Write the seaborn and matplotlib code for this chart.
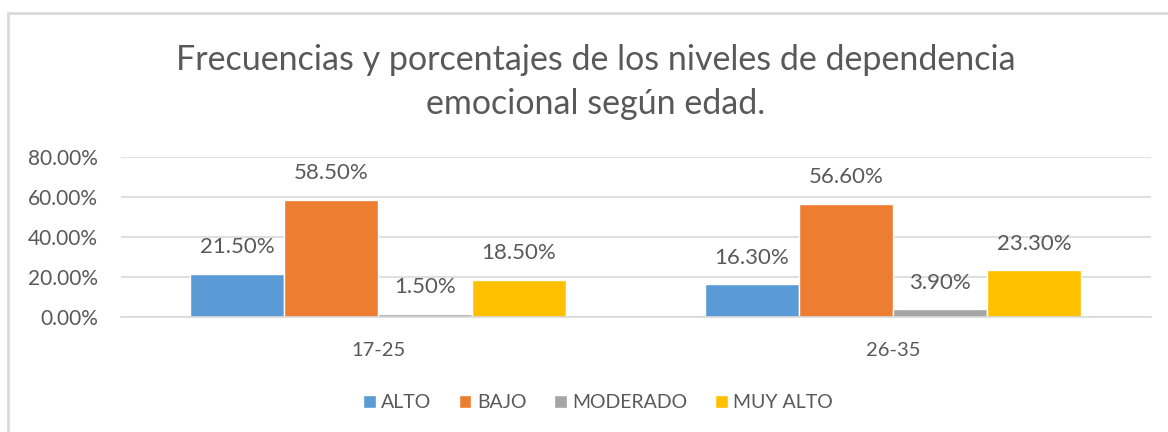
import matplotlib
matplotlib.use("Agg")
import matplotlib.pyplot as plt
from matplotlib.lines import Line2D
import seaborn as sns
import pandas as pd

# values
edades = ["17-25", "26-35"]
niveles = ["ALTO", "BAJO", "MODERADO", "MUY ALTO"]
alto = [21.5, 16.3]
bajo = [58.5, 56.6]
moderado = [1.5, 3.9]
muy_alto = [18.5, 23.3]

colores = ["#5B9BD5", "#ED7D31", "#A5A5A5", "#FFC000"]
gris = "#595959"

df = pd.DataFrame({
    "edad": edades * 4,
    "nivel": [n for n in niveles for _ in edades],
    "pct": alto + bajo + moderado + muy_alto,
})

sns.set_style("white")
plt.rcParams["font.family"] = ["Lato", "DejaVu Sans"]

fig = plt.figure(figsize=(11.68, 4.32), dpi=100)
ax = fig.add_axes([120.5 / 1168, 1 - 317 / 432, 1030 / 1168, 160 / 432])

sns.barplot(data=df, x="edad", y="pct", hue="nivel", hue_order=niveles,
            palette=colores, width=0.73, saturation=1, ax=ax, legend=True)

for cont in ax.containers:
    ax.bar_label(cont, labels=[f"{v:.2f}%" for v in cont.datavalues],
                 padding=12, fontsize=16, color=gris)

ax.set_ylim(0, 80)
ax.set_xlim(-0.5, 1.5)
ax.set_yticks([0, 20, 40, 60, 80])
ax.set_yticklabels([f"{t:.2f}%" for t in [0, 20, 40, 60, 80]], fontsize=15, color=gris)
ax.tick_params(axis="x", labelsize=14.5, labelcolor=gris, pad=18, length=0)
ax.tick_params(axis="y", pad=16, length=0)
ax.yaxis.grid(True, color="#D9D9D9", linewidth=1.2)
ax.set_axisbelow(True)
for s in ["top", "right", "left"]:
    ax.spines[s].set_visible(False)
ax.spines["bottom"].set_color("#D9D9D9")
ax.spines["bottom"].set_linewidth(1.2)
ax.set_xlabel("")
ax.set_ylabel("")

handles, labels = ax.get_legend_handles_labels()
ax.legend_.remove()
fig.legend(handles, labels, loc="center", bbox_to_anchor=(598 / 1168, 1 - 403 / 432),
           ncol=4, frameon=False, fontsize=14, labelcolor=gris,
           handlelength=0.65, handleheight=0.65, handletextpad=0.3, columnspacing=1.4)

fig.text(596 / 1168, 1 - 82 / 432,
         "Frecuencias y porcentajes de los niveles de dependencia\nemocional según edad.",
         ha="center", va="center", fontsize=24.5, color=gris, linespacing=1.45)

# chart area border (left and top)
fig.add_artist(Line2D([8 / 1168, 8 / 1168], [0, 1 - 13 / 432], transform=fig.transFigure,
                      color="#D9D9D9", linewidth=2))
fig.add_artist(Line2D([8 / 1168, 1], [1 - 13 / 432, 1 - 13 / 432], transform=fig.transFigure,
                      color="#D9D9D9", linewidth=2))

fig.savefig("out.png", dpi=100)
